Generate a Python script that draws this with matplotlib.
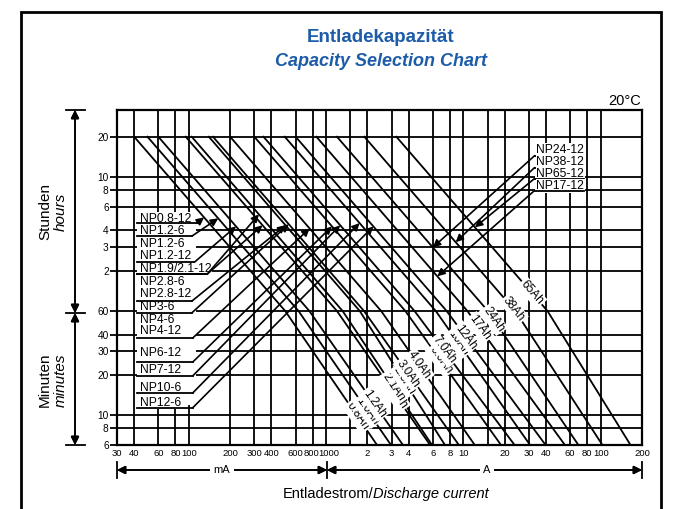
import numpy as np
import matplotlib.pyplot as plt
from matplotlib.patches import Rectangle
from matplotlib.lines import Line2D
from matplotlib.transforms import ScaledTranslation

plt.rcParams['font.family'] = ['Liberation Sans', 'DejaVu Sans']

# capacity lines, current in mA at 20 h, 1 h and 6 min
cap_labels = ['0.8Ah', '1.0Ah', '1.2Ah', '1.9Ah', '2.1Ah', '2.8Ah', '3.0Ah', '4.0Ah',
              '6.0Ah', '7.0Ah', '10Ah', '12Ah', '17Ah', '24Ah', '38Ah', '65Ah']
i_20h = [40, 50, 60, 95, 105, 140, 150, 200, 300, 350, 500, 600, 850, 1200, 1900, 3250]
i_1h = [504, 630, 756, 1200, 1320, 1760, 1890, 2520, 3780, 4410, 6300, 7560,
        10700, 15100, 23900, 41000]
i_6min = [2350, 2970, 3630, 5720, 5910, 7340, 9270, 12100, 18800, 23600, 30600, 39700,
          54900, 68800, 103000, 165000]
# time (min) at which each Ah label sits on its line
cap_label_min = [9.8, 10.8, 12.2, 14.1, 16.3, 18.2, 20.5, 23.6, 25.8, 30.7, 34.7, 38.5,
                 45, 52, 62, 82]
t_points = [1200, 60, 6]

x_ticks = [30, 40, 60, 80, 100, 200, 300, 400, 600, 800, 1000, 2000, 3000, 4000, 6000,
           8000, 10000, 20000, 30000, 40000, 60000, 80000, 100000, 200000]
x_ticklabels = ['30', '40', '60', '80', '100', '200', '300', '400', '600', '800', '1000',
                '2', '3', '4', '6', '8', '10', '20', '30', '40', '60', '80', '100', '200']
x_extra_grid = [1500, 15000]
y_ticks = [6, 8, 10, 20, 30, 40, 60, 120, 180, 240, 360, 480, 600, 1200]
y_ticklabels = ['6', '8', '10', '20', '30', '40', '60', '2', '3', '4', '6', '8', '10', '20']

# battery types on the left, text centre time (min)
np_left = ['NP0.8-12', 'NP1.2-6', 'NP1.2-6', 'NP1.2-12', 'NP1.9/2.1-12', 'NP2.8-6',
           'NP2.8-12', 'NP3-6', 'NP4-6', 'NP4-12', 'NP6-12', 'NP7-12', 'NP10-6', 'NP12-6']
np_left_min = [290, 236, 189, 154, 123, 98.5, 80, 64, 51, 42.6, 29.2, 21.8, 16, 12.4]
# pointer lines: label index, underline time, elbow current, target line, tip time
conn_label = [0, 1, 3, 4, 4, 6, 7, 9, 10, 11, 12, 13]
conn_line_min = [271, 217, 139, 113, 113, 71, 58, 37.8, 25, 19.7, 14.7, 11.4]
conn_elbow = [114, 105, 110, 136, 136, 105, 105, 107, 107, 107, 107, 107]
conn_cap = [0, 1, 2, 3, 4, 5, 6, 7, 8, 9, 10, 11]
conn_tip_min = [300, 295, 257, 262, 316, 262, 267, 248, 257, 262, 272, 257]

# battery types on the right
np_right = ['NP24-12', 'NP38-12', 'NP65-12', 'NP17-12']
np_right_min = [960, 783, 637, 519]
np_right_line_min = [866, 706, 585, 476]
np_right_cap = [13, 14, 15, 12]
np_right_tip_min = [179, 196, 253, 109]

W, H = 675, 509
BLUE = '#1d5ca8'


def P(x, y):
    return (x / W, 1 - y / H)


def cur_at(k, t):
    ts = np.log10(t_points[::-1])
    cs = np.log10([i_6min[k], i_1h[k], i_20h[k]])
    return 10 ** np.interp(np.log10(t), ts, cs)


fig = plt.figure(figsize=(W / 100, H / 100), dpi=100)
ax = fig.add_axes([117 / W, 1 - 445 / H, (642 - 117) / W, (445 - 110) / H])
ax.set_xscale('log')
ax.set_yscale('log')
ax.set_xlim(30, 200000)
ax.set_ylim(6, 1900)

ax.set_xticks(x_ticks)
ax.set_xticklabels(x_ticklabels)
ax.set_yticks(y_ticks)
ax.set_yticklabels(y_ticklabels)
ax.minorticks_off()
ax.tick_params(axis='x', length=0, pad=3, labelsize=6.8)
ax.tick_params(axis='y', length=5, width=1.3, pad=1, labelsize=7.3)
# the 800 / 1000 labels sit a little apart, as in the original
for lab, dx in [(ax.get_xticklabels()[9], -1.5), (ax.get_xticklabels()[10], 2.5)]:
    lab.set_transform(lab.get_transform() + ScaledTranslation(dx / 100, 0, fig.dpi_scale_trans))
for s in ax.spines.values():
    s.set_linewidth(1.6)

# grid
for xv in x_ticks[1:-1] + x_extra_grid:
    ax.axvline(xv, color='k', lw=1.3, zorder=1)
for yv in y_ticks[1:]:
    ax.axhline(yv, color='k', lw=1.3, zorder=1)

# white areas behind the type labels
ax.fill_between([42, 112], [12, 12], [330, 330], color='white', zorder=2, lw=0)
ax.fill_between([33000, 72000], [460, 460], [1030, 1030], color='white', zorder=2, lw=0)

# capacity lines
for k in range(len(cap_labels)):
    ax.plot([i_20h[k], i_1h[k], i_6min[k]], t_points, color='k', lw=1.3, zorder=3)
    t = cap_label_min[k]
    x = cur_at(k, t)
    p1 = ax.transData.transform((cur_at(k, t * 1.2), t * 1.2))
    p2 = ax.transData.transform((cur_at(k, t / 1.2), t / 1.2))
    ang = np.degrees(np.arctan2(p2[1] - p1[1], p2[0] - p1[0]))
    ax.text(x, t, cap_labels[k], rotation=ang, rotation_mode='anchor', ha='center',
            va='center', fontsize=8.5, zorder=5,
            bbox=dict(boxstyle='square,pad=0.12', fc='white', ec='none'))

# left type labels
for name, t in zip(np_left, np_left_min):
    ax.text(44, t, name, ha='left', va='center', fontsize=8.7, zorder=6,
            bbox=dict(boxstyle='square,pad=0.05', fc='white', ec='none'))
for j in range(len(conn_label)):
    tl = conn_line_min[j]
    ax.plot([42, conn_elbow[j]], [tl, tl], color='k', lw=1.3, zorder=6)
    tip = (cur_at(conn_cap[j], conn_tip_min[j]), conn_tip_min[j])
    ax.annotate('', xy=tip, xytext=(conn_elbow[j], tl),
                arrowprops=dict(arrowstyle='-|>', color='k', lw=1.2, mutation_scale=11,
                                shrinkA=0, shrinkB=0), zorder=6)

# right type labels
for j in range(len(np_right)):
    ax.text(34000, np_right_min[j], np_right[j], ha='left', va='center', fontsize=8.7,
            zorder=6, bbox=dict(boxstyle='square,pad=0.05', fc='white', ec='none'))
    tl = np_right_line_min[j]
    ax.plot([33000, 75000], [tl, tl], color='k', lw=1.3, zorder=6)
    tip = (cur_at(np_right_cap[j], np_right_tip_min[j]), np_right_tip_min[j])
    ax.annotate('', xy=tip, xytext=(33000, tl),
                arrowprops=dict(arrowstyle='-|>', color='k', lw=1.2, mutation_scale=11,
                                shrinkA=0, shrinkB=0), zorder=6)

# frame and titles
fig.add_artist(Rectangle((21 / W, -0.1), (661 - 21) / W, 1 - 12 / H + 0.1,
                         transform=fig.transFigure, fill=False, lw=2, ec='k'))
fig.text(*P(381, 38), 'Entladekapazität', ha='center', va='center', fontsize=13.5,
         fontweight='bold', color=BLUE)
fig.text(*P(381, 62), 'Capacity Selection Chart', ha='center', va='center', fontsize=13,
         fontweight='bold', style='italic', color=BLUE)
fig.text(*P(641, 101), '20°C', ha='right', va='center', fontsize=10.5)

# hours / minutes arrows
arr = dict(arrowstyle='<|-|>', color='k', lw=1.2, mutation_scale=12, shrinkA=0, shrinkB=0)
for y0, y1 in [(110, 313), (313, 445)]:
    fig.add_artist(plt.annotate('', xy=P(75, y0), xytext=P(75, y1),
                                xycoords='figure fraction', textcoords='figure fraction',
                                arrowprops=arr))
for y in [110, 313, 445]:
    fig.add_artist(Line2D([66 / W, 85 / W], [1 - y / H] * 2, color='k', lw=1.3))
fig.text(*P(45, 212), 'Stunden', rotation=90, ha='center', va='center', fontsize=11)
fig.text(*P(61, 212), 'hours', rotation=90, ha='center', va='center', fontsize=11,
         style='italic')
fig.text(*P(45, 380), 'Minuten', rotation=90, ha='center', va='center', fontsize=11)
fig.text(*P(61, 380), 'minutes', rotation=90, ha='center', va='center', fontsize=11,
         style='italic')

# mA / A arrows
for x0, x1 in [(117, 327), (327, 642)]:
    fig.add_artist(plt.annotate('', xy=P(x0, 470), xytext=P(x1, 470),
                                xycoords='figure fraction', textcoords='figure fraction',
                                arrowprops=arr))
for x in [117, 327, 642]:
    fig.add_artist(Line2D([x / W] * 2, [1 - 462 / H, 1 - 478 / H], color='k', lw=1.3))
fig.text(*P(222, 470), 'mA', ha='center', va='center', fontsize=8,
         bbox=dict(boxstyle='square,pad=0.3', fc='white', ec='none'))
fig.text(*P(487, 470), 'A', ha='center', va='center', fontsize=8,
         bbox=dict(boxstyle='square,pad=0.3', fc='white', ec='none'))
fig.text(*P(373, 494), 'Entladestrom/', ha='right', va='center', fontsize=10.5)
fig.text(*P(373, 494), 'Discharge current', ha='left', va='center', fontsize=10.5,
         style='italic')

fig.savefig('out.png', dpi=100)
